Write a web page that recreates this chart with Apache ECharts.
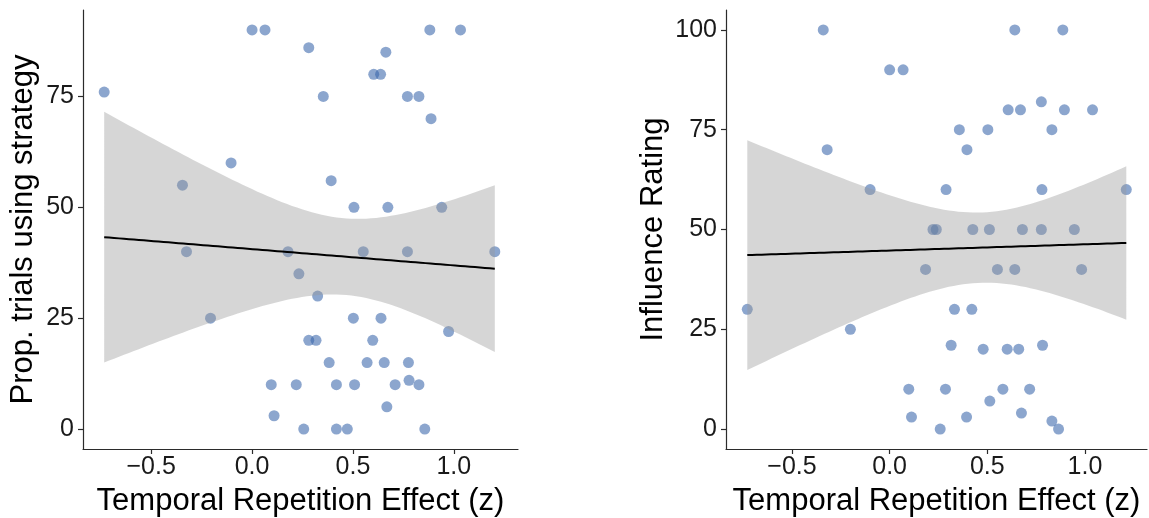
<!DOCTYPE html>
<html>
<head>
<meta charset="utf-8">
<script src="https://cdn.jsdelivr.net/npm/echarts@6/dist/echarts.min.js"></script>
<style>
html,body{margin:0;padding:0;background:#fff;}
#chart{width:1149px;height:518px;}
</style>
</head>
<body>
<div id="chart"></div>
<script>
// ---- Data ----
const leftX = [-0.733,-0.345,-0.325,-0.206,-0.104,0.000,0.064,0.095,0.109,0.178,0.219,0.232,0.256,0.281,0.281,0.317,0.325,0.353,0.382,0.392,0.418,0.418,0.472,0.502,0.505,0.508,0.551,0.570,0.598,0.603,0.637,0.639,0.655,0.663,0.668,0.673,0.709,0.770,0.770,0.775,0.778,0.827,0.827,0.856,0.881,0.887,0.940,0.974,1.033,1.203];
const leftY = [76,55,40,25,60,90,90,10,3,40,10,35,0,86,20,20,30,75,15,56,10,0,0,25,50,10,40,15,20,80,80,25,15,85,5,50,10,75,40,15,11,75,10,0,90,70,50,22,90,40];

const rightX = [-0.729,-0.340,-0.320,-0.201,-0.100,0.000,0.069,0.098,0.112,0.184,0.222,0.239,0.259,0.286,0.289,0.315,0.332,0.357,0.394,0.396,0.421,0.426,0.479,0.503,0.511,0.513,0.552,0.580,0.602,0.607,0.641,0.641,0.661,0.670,0.675,0.680,0.717,0.777,0.777,0.780,0.783,0.831,0.831,0.865,0.887,0.895,0.946,0.983,1.039,1.212];
const rightY = [30,100,70,25,60,90,90,10,3,40,50,50,0,10,60,21,30,75,3,70,30,50,20,75,50,7,40,10,20,80,100,40,20,80,4,50,10,82,50,60,21,75,2,0,100,80,50,40,80,60];

const xTicks = [-0.5, 0, 0.5, 1.0];
const leftYTicks = [0, 25, 50, 75];
const rightYTicks = [0, 25, 50, 75, 100];

const xTitle = 'Temporal Repetition Effect (z)';
const leftYTitle = 'Prop. trials using strategy';
const rightYTitle = 'Influence Rating';

// ---- Linear fit with 95% confidence band (as geom_smooth(method="lm")) ----
function lmFit(xs, ys, nOut) {
  const n = xs.length;
  const mx = xs.reduce((a,b)=>a+b,0)/n;
  const my = ys.reduce((a,b)=>a+b,0)/n;
  let sxx=0, sxy=0;
  for (let i=0;i<n;i++){ sxx+=(xs[i]-mx)*(xs[i]-mx); sxy+=(xs[i]-mx)*(ys[i]-my); }
  const b = sxy/sxx, a = my - b*mx;
  let sse=0;
  for (let i=0;i<n;i++){ const r=ys[i]-(a+b*xs[i]); sse+=r*r; }
  const s = Math.sqrt(sse/(n-2));
  const t = 2.0106; // t(0.975, 48)
  const xmin = Math.min(...xs), xmax = Math.max(...xs);
  const line=[], upper=[], lower=[];
  for (let k=0;k<nOut;k++){
    const x = xmin + (xmax-xmin)*k/(nOut-1);
    const yh = a + b*x;
    const se = s*Math.sqrt(1/n + (x-mx)*(x-mx)/sxx);
    line.push([x,yh]); upper.push([x,yh+t*se]); lower.push([x,yh-t*se]);
  }
  return {line, upper, lower};
}
const fitL = lmFit(leftX, leftY, 80);
const fitR = lmFit(rightX, rightY, 80);

const FONT = 'Liberation Sans, Arial, Helvetica, sans-serif';
const AXC = '#2b2b2b';

function fmtX(v){ if (Math.abs(v)<1e-9) return '0.0'; return (v<0?'\u2212':'') + Math.abs(v).toFixed(1); }

function xAxisCfg(gi){
  return {
    gridIndex: gi, type:'value', min:-0.838, max:1.318,
    splitLine:{show:false},
    axisLine:{show:true, onZero:false, lineStyle:{color:AXC, width:1.2}},
    axisTick:{show:true, length:5, customValues:xTicks, lineStyle:{color:AXC, width:1.2}},
    axisLabel:{customValues:xTicks, formatter:fmtX, fontSize:25, color:'#1a1a1a', fontFamily:FONT, margin:6},
    name:xTitle, nameLocation:'middle', nameGap:37, nameMoveOverlap:false,
    nameTextStyle:{fontSize:31, color:'#000', fontFamily:FONT}
  };
}
function yAxisCfg(gi, min, max, ticks, title, gap){
  return {
    gridIndex: gi, type:'value', min:min, max:max,
    splitLine:{show:false},
    axisLine:{show:true, onZero:false, lineStyle:{color:AXC, width:1.2}},
    axisTick:{show:true, length:5, customValues:ticks, lineStyle:{color:AXC, width:1.2}},
    axisLabel:{customValues:ticks, formatter:(v)=>String(Math.round(v)), fontSize:25, color:'#1a1a1a', fontFamily:FONT, margin:9},
    name:title, nameLocation:'middle', nameGap:gap, nameMoveOverlap:false,
    nameTextStyle:{fontSize:31, color:'#000', fontFamily:FONT}
  };
}

function bandSeries(fit, xi, yi){
  return {
    type:'custom', xAxisIndex:xi, yAxisIndex:yi, z:5, silent:true,
    data:[[0,0]],
    renderItem:function(params, api){
      const pts=[];
      fit.upper.forEach(p=>pts.push(api.coord(p)));
      for (let i=fit.lower.length-1;i>=0;i--) pts.push(api.coord(fit.lower[i]));
      return {type:'polygon', shape:{points:pts}, style:{fill:'rgba(153,153,153,0.4)', stroke:null}};
    }
  };
}
function pointSeries(xs, ys, xi, yi){
  return {
    type:'scatter', xAxisIndex:xi, yAxisIndex:yi, z:3, silent:true,
    symbolSize:11,
    itemStyle:{color:'rgba(55,100,170,0.72)'},
    data: xs.map((x,i)=>[x, ys[i]])
  };
}
function lineSeries(fit, xi, yi){
  return {
    type:'line', xAxisIndex:xi, yAxisIndex:yi, z:6, silent:true,
    showSymbol:false, symbol:'none',
    lineStyle:{color:'#000', width:2},
    data: fit.line
  };
}

const chart = echarts.init(document.getElementById('chart'), null, {renderer:'canvas'});
chart.setOption({
  animation:false,
  backgroundColor:'#fff',
  grid:[
    {left:83, top:10, width:435, height:439, containLabel:false, outerBoundsMode:'none'},
    {left:726, top:10, width:421, height:439, containLabel:false, outerBoundsMode:'none'}
  ],
  xAxis:[xAxisCfg(0), xAxisCfg(1)],
  yAxis:[
    yAxisCfg(0, -4.5, 94.5, leftYTicks, leftYTitle, 44),
    yAxisCfg(1, -5, 105, rightYTicks, rightYTitle, 57)
  ],
  series:[
    pointSeries(leftX, leftY, 0, 0),
    bandSeries(fitL, 0, 0),
    lineSeries(fitL, 0, 0),
    pointSeries(rightX, rightY, 1, 1),
    bandSeries(fitR, 1, 1),
    lineSeries(fitR, 1, 1)
  ]
});
</script>
</body>
</html>
